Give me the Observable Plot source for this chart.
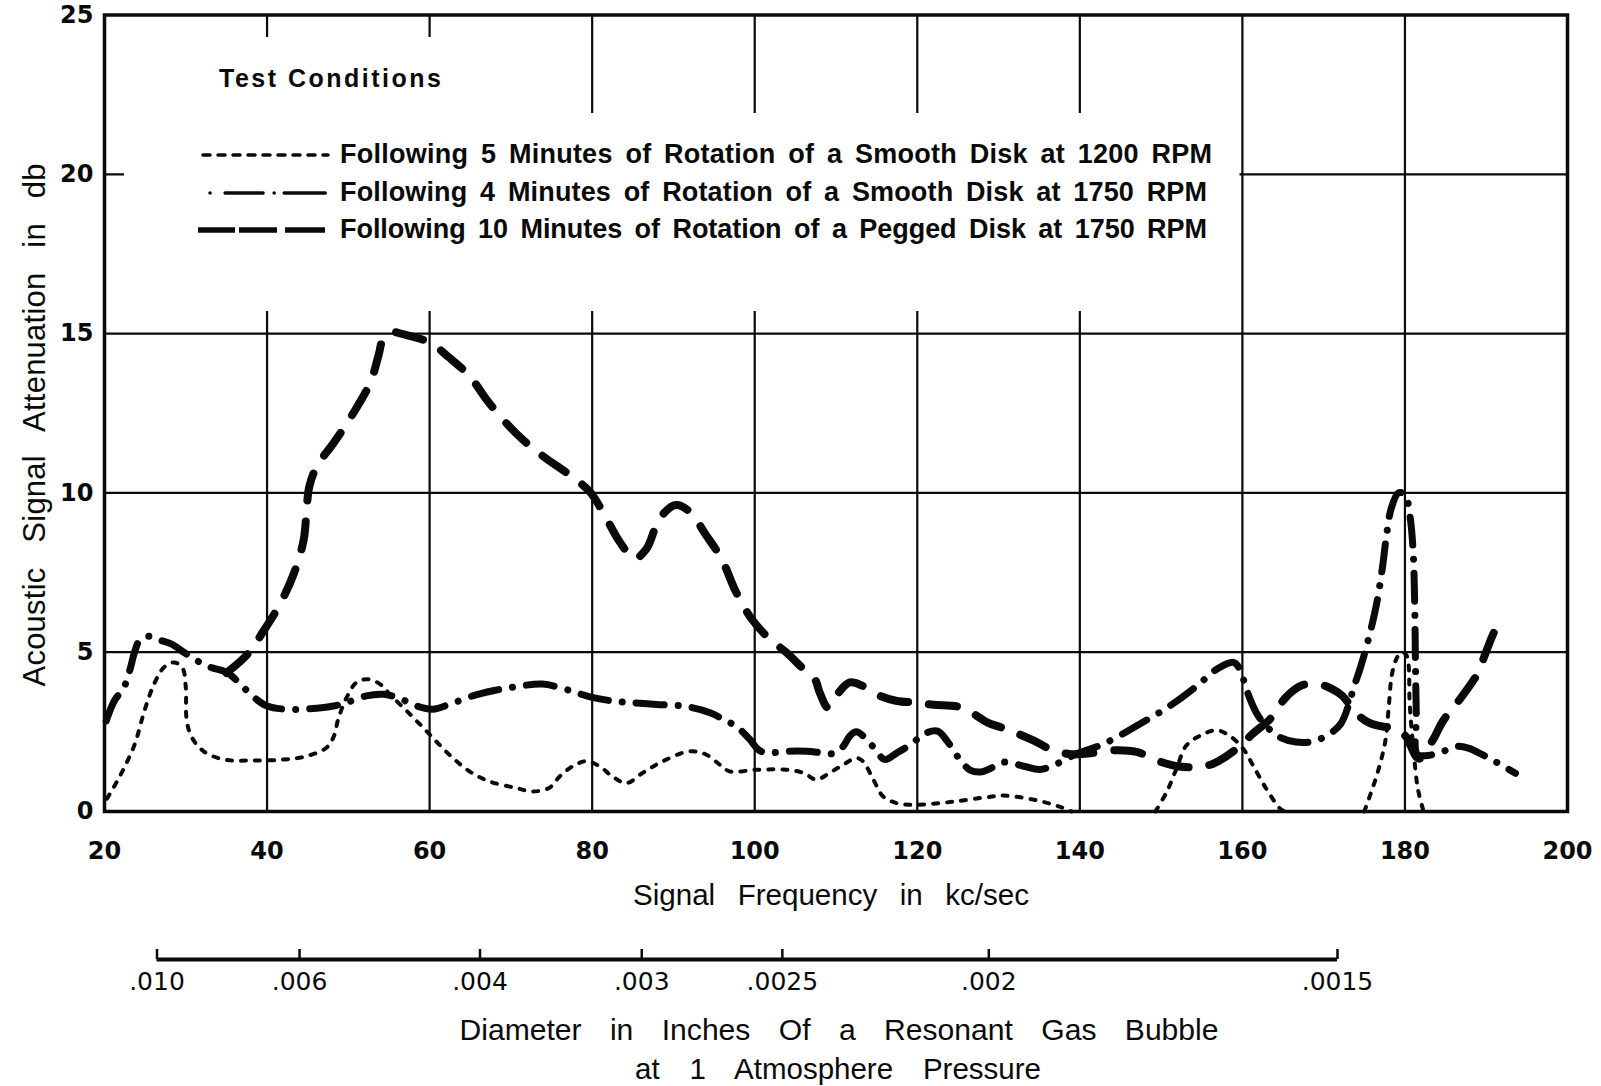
<!DOCTYPE html>
<html><head><meta charset="utf-8">
<script src="https://cdn.jsdelivr.net/npm/d3@7"></script>
<script src="https://cdn.jsdelivr.net/npm/@observablehq/plot@0.6"></script>
<style>
html,body{margin:0;padding:0;background:#fff;}
#wrap{position:relative;width:1601px;height:1086px;overflow:hidden;background:#fff;}
#wrap > svg{position:absolute;left:0;}
#main [aria-label$="tick label"], #main [aria-label$="tick label"] text{font-size:24px !important;font-family:'DejaVu Sans',sans-serif !important;font-weight:bold !important;}
#second [aria-label$="tick label"], #second [aria-label$="tick label"] text{font-size:25px !important;font-family:'DejaVu Sans',sans-serif !important;}
</style></head><body><div id="wrap"></div>
<script>
// ---------- data ----------
const xTicks = [20, 40, 60, 80, 100, 120, 140, 160, 180, 200];
const yTicks = [0, 5, 10, 15, 20, 25];
const xGrid = [40, 60, 80, 100, 120, 140, 160, 180];
const yGrid = [5, 10, 15, 20];

// secondary scale: bubble diameter (inches) and the frequency it sits under
const diamLabels = [".010", ".006", ".004", ".003", ".0025", ".002", ".0015"];
const diamFreq = [26.46, 44.0, 66.2, 86.1, 103.4, 128.8, 171.7];

const legendTitle = "Test Conditions";
const seriesLabels = [
  "Following 5 Minutes of Rotation of a Smooth Disk at 1200 RPM",
  "Following 4 Minutes of Rotation of a Smooth Disk at 1750 RPM",
  "Following 10 Minutes of Rotation of a Pegged Disk at 1750 RPM"
];
const xLabel = "Signal Frequency in kc/sec";
const yLabel = "Acoustic Signal Attenuation in db";
const diamTitle1 = "Diameter in Inches Of a Resonant Gas Bubble";
const diamTitle2 = "at 1 Atmosphere Pressure";

// 5 min, smooth disk, 1200 RPM  [kc/sec, db, segment]
const smooth1200 = [
  [20.3,0.4,0],[22,1.16,0],[23.7,2.1,0],[24.9,3.15,0],[26.1,4.0,0],[27.3,4.52,0],[28.6,4.68,0],[29.6,4.5,0],
  [30.0,3.9,0],[30.1,2.9,0],[30.7,2.35,0],[32.2,1.89,0],[34.7,1.63,0],[38,1.6,0],[42,1.63,0],[44.9,1.74,0],
  [47.3,2.0,0],[48.2,2.35,0],[48.8,2.94,0],[49.8,3.58,0],[51,4.05,0],[52.4,4.15,0],[53.9,4.0,0],[55.1,3.68,0],
  [57.6,3.05,0],[60,2.42,0],[62.4,1.79,0],[64.9,1.26,0],[67.3,0.95,0],[70.6,0.74,0],[72.7,0.63,0],[74.7,0.74,0],
  [76,1.1,0],[77.6,1.42,0],[79.3,1.58,0],[80.9,1.42,0],[82.5,1.1,0],[84.2,0.89,0],[86.2,1.21,0],[88.7,1.58,0],
  [92,1.89,0],[94,1.79,0],[95.7,1.47,0],[96.9,1.26,0],[100.2,1.31,0],[103.9,1.31,0],[106,1.21,0],[107.6,1.0,0],
  [109.2,1.21,0],[110.9,1.47,0],[112.5,1.68,0],[113.3,1.58,0],[114.6,1.0,0],[115.8,0.47,0],[117.5,0.26,0],
  [119.1,0.21,0],[120.8,0.22,0],[124.5,0.31,0],[128.6,0.45,0],[130.6,0.5,0],[134.7,0.35,0],[137.5,0.15,0],[139,0,0],
  [149.3,0,1],[150.7,0.62,1],[151.9,1.35,1],[153.1,2.07,1],[154.8,2.38,1],[156.8,2.55,1],[158.4,2.38,1],
  [160.1,1.97,1],[161.3,1.45,1],[162.9,0.73,1],[164.6,0.1,1],[165.2,0,1],
  [175.0,0,2],[176.6,1.19,2],[177.6,2.23,2],[178.0,3.26,2],[178.4,4.3,2],[179.0,4.82,2],[179.6,5.0,2],
  [180.2,4.9,2],[180.6,3.3,2],[181.1,1.8,2],[181.6,0.7,2],[182.3,0,2]
];

// 4 min, smooth disk, 1750 RPM
const smooth1750 = [
  [20.2,2.84],[21.2,3.47],[22.4,3.9],[23.1,4.42],[23.7,5.0],[24.3,5.36],[25.5,5.5],[26.5,5.4],[28.2,5.26],
  [29.8,4.99],[31.4,4.73],[33.1,4.52],[35.1,4.36],[36.7,4.0],[38.4,3.58],[40,3.31],[42.4,3.21],[46.1,3.24],
  [48.2,3.31],[49.8,3.42],[52.2,3.63],[54.3,3.68],[56.3,3.55],[58.4,3.31],[60.4,3.21],[62.4,3.36],[65.3,3.63],
  [67.8,3.79],[70.2,3.9],[73.9,4.0],[76.4,3.86],[78.4,3.7],[80,3.58],[82.5,3.47],[84.6,3.42],[87.9,3.36],
  [91.2,3.31],[94.5,3.1],[96.5,2.84],[97.7,2.68],[99.4,2.26],[100.4,1.95],[101.4,1.84],[103.9,1.89],[106.4,1.89],
  [108.4,1.84],[109.7,1.82],[110.9,2.05],[111.7,2.37],[112.5,2.5],[113.8,2.26],[115,1.89],[116,1.63],[117.5,1.84],
  [119.5,2.16],[120.7,2.42],[122.5,2.52],[123.7,2.2],[125.3,1.61],[126.5,1.3],[127.8,1.24],[129,1.35],[130.6,1.55],
  [133.1,1.42],[135.1,1.32],[137.2,1.5],[139.6,1.81],[142.9,2.12],[147,2.69],[151.1,3.32],[154.4,3.94],[156.8,4.46],
  [158.9,4.68],[159.7,4.46],[160.5,3.83],[161.7,3.11],[162.9,2.69],[164.6,2.33],[166.6,2.18],[168.7,2.2],[170.5,2.4],
  [172.1,2.75],[173.1,3.37],[173.7,3.89],[174.5,4.5],[175.5,5.4],[176.5,6.5],[177.2,7.6],[177.7,8.6],[178.3,9.5],
  [179.2,10.0],[180.0,9.95],[180.6,9.3],[181.0,8.2],[181.2,6.5],[181.3,4.5],[181.4,3.0],[181.5,1.8],[182.5,1.75],
  [184.3,1.85],[186.5,2.05],[187.9,1.98],[189.7,1.76],[191.6,1.5],[193.6,1.2]
];

// 10 min, pegged disk, 1750 RPM
const pegged1750 = [
  [35.0,4.35],[37.6,4.94],[39.6,5.68],[41.6,6.52],[43.3,7.47],[44.5,8.52],[44.9,9.6],[45.2,10.2],[46.1,10.83],
  [48.2,11.57],[50.6,12.5],[52.7,13.46],[53.7,14.3],[54.3,14.83],[55.5,15.04],[56.7,14.98],[60,14.72],[62.4,14.25],
  [64.9,13.67],[67.3,12.83],[70.6,11.88],[73.7,11.2],[77.2,10.57],[79.7,10.04],[81.3,9.41],[83.4,8.46],[85.2,7.94],
  [86.7,8.25],[88.3,9.2],[90.3,9.62],[92,9.41],[94,8.68],[95.9,7.94],[97.7,6.89],[99.6,6.05],[101.8,5.42],[103.9,4.99],
  [106,4.47],[107.4,4.15],[108,3.73],[109,3.26],[110,3.63],[111.7,4.05],[113.3,3.94],[115.4,3.63],[117.5,3.47],
  [119.9,3.42],[122,3.35],[124.9,3.3],[126.7,3.1],[128.6,2.8],[130.2,2.65],[131.9,2.49],[134.7,2.18],[136.4,1.95],
  [138.8,1.8],[141,1.82],[144,1.92],[147,1.87],[149.5,1.6],[152,1.42],[154.4,1.4],[156.4,1.5],[159.3,1.97],[161.3,2.45],
  [163.4,2.9],[165.4,3.6],[167.4,3.97],[169.5,3.99],[171,3.85],[172.3,3.63],[174.1,3.06],[175.5,2.8],[177.4,2.66],
  [178.6,2.64],[180.2,2.33],[180.6,2.12],[181.4,1.71],[181.8,1.66],[183.4,2.23],[184.7,2.85],[186.3,3.37],[187.5,3.78],
  [189.1,4.4],[189.7,4.82],[190.8,5.54],[191.2,5.75],[192,6.2]
];

// ---------- drawing ----------
const W = 1601;
const wrap = document.getElementById("wrap");
const ink = "#0a0a0a";
const baseStyle = {fontFamily: "'DejaVu Sans', sans-serif", fontSize: "24px", color: ink, background: "transparent", overflow: "visible"};

const main = Plot.plot({
  width: W, height: 930,
  marginLeft: 104, marginRight: 34, marginTop: 14.5, marginBottom: 119,
  x: {domain: [20, 200]},
  y: {domain: [0, 25]},
  style: baseStyle,
  marks: [
    Plot.ruleX(xGrid, {stroke: ink, strokeWidth: 2.2}),
    Plot.ruleY(yGrid, {stroke: ink, strokeWidth: 2.2}),
    Plot.line(smooth1200, {x: d => d[0], y: d => d[1], z: d => d[2], curve: "catmull-rom",
      stroke: ink, strokeWidth: 4, strokeDasharray: "5,9", strokeLinecap: "round"}),
    Plot.line(smooth1750, {x: d => d[0], y: d => d[1], curve: "catmull-rom",
      stroke: ink, strokeWidth: 7, strokeDasharray: "28,14,0.1,14", strokeLinecap: "round"}),
    Plot.line(pegged1750, {x: d => d[0], y: d => d[1], curve: "catmull-rom",
      stroke: ink, strokeWidth: 8, strokeDasharray: "28,21", strokeLinecap: "round"}),
    Plot.frame({stroke: ink, strokeWidth: 3.5}),
    Plot.axisX(xTicks, {tickSize: 0, tickPadding: 30, label: null, fontSize: 24}),
    Plot.axisY(yTicks, {tickSize: 0, tickPadding: 11, label: null, fontSize: 24})
  ]
});
main.id = "main";
main.style.top = "0px";
wrap.appendChild(main);

const labOf = new Map(diamFreq.map((f, i) => [f, diamLabels[i]]));
const second = Plot.plot({
  width: W, height: 80,
  marginLeft: 104, marginRight: 34, marginTop: 19, marginBottom: 51,
  x: {domain: [20, 200]},
  y: {domain: [0, 1], axis: null},
  style: baseStyle,
  marks: [
    Plot.ruleX(diamFreq, {stroke: ink, strokeWidth: 2.5}),
    Plot.ruleY([0], {x1: diamFreq[0], x2: diamFreq[diamFreq.length - 1], stroke: ink, strokeWidth: 4}),
    Plot.axisX(diamFreq, {tickSize: 0, tickPadding: 13, tickFormat: d => labOf.get(d), label: null, fontSize: 25})
  ]
});
second.id = "second";
second.style.top = "930px";
wrap.appendChild(second);

// legend, axis titles (overlay)
const bold = "font-family:'Liberation Sans',Arial,sans-serif;font-weight:bold;font-size:27px;";
const plain = "font-family:'Liberation Sans',Arial,sans-serif;";
const legendBaselines = [163, 201, 238];
const legendLineY = [155, 193, 230];
const legendStrokes = [
  {w: 3.5, dash: "7,8", cap: "round", x1: 203, x2: 328},
  {w: 3.5, dash: "0.1,15,38,11,0.1,10,41,20", cap: "round", x1: 210, x2: 327},
  {w: 5.5, dash: "37,4,38,8,40,20", cap: "butt", x1: 198, x2: 325}
];
const legendWidths = [872, 867, 867];
let ov = `<svg xmlns="http://www.w3.org/2000/svg" width="${W}" height="1086" style="position:absolute;left:0;top:0" fill="${ink}">`;
ov += `<path d="M124,37 H515 V113 H1239.5 V311 H124 Z" fill="#fff"/>`;
ov += `<text x="219" y="87" style="${bold}font-size:25px;" textLength="222" lengthAdjust="spacing">${legendTitle}</text>`;
seriesLabels.forEach((t, i) => {
  const s = legendStrokes[i];
  ov += `<line x1="${s.x1}" x2="${s.x2}" y1="${legendLineY[i]}" y2="${legendLineY[i]}" stroke="${ink}" stroke-width="${s.w}" stroke-dasharray="${s.dash}" stroke-linecap="${s.cap}"/>`;
  ov += `<text x="340" y="${legendBaselines[i]}" style="${bold}word-spacing:5px;" textLength="${legendWidths[i]}" lengthAdjust="spacing">${t}</text>`;
});
ov += `<text transform="translate(45,425) rotate(-90)" text-anchor="middle" style="${plain}font-size:31px;word-spacing:16px;" textLength="523" lengthAdjust="spacing">${yLabel}</text>`;
ov += `<text x="831" y="905" text-anchor="middle" style="${plain}font-size:29px;word-spacing:14px;" textLength="396" lengthAdjust="spacingAndGlyphs">${xLabel}</text>`;
ov += `<text x="839" y="1040" text-anchor="middle" style="${plain}font-size:30px;word-spacing:20px;" textLength="759" lengthAdjust="spacingAndGlyphs">${diamTitle1}</text>`;
ov += `<text x="838" y="1079" text-anchor="middle" style="${plain}font-size:30px;word-spacing:22px;" textLength="406" lengthAdjust="spacingAndGlyphs">${diamTitle2}</text>`;
ov += `</svg>`;
const holder = document.createElement("div");
holder.innerHTML = ov;
wrap.appendChild(holder.firstChild);
</script></body></html>
